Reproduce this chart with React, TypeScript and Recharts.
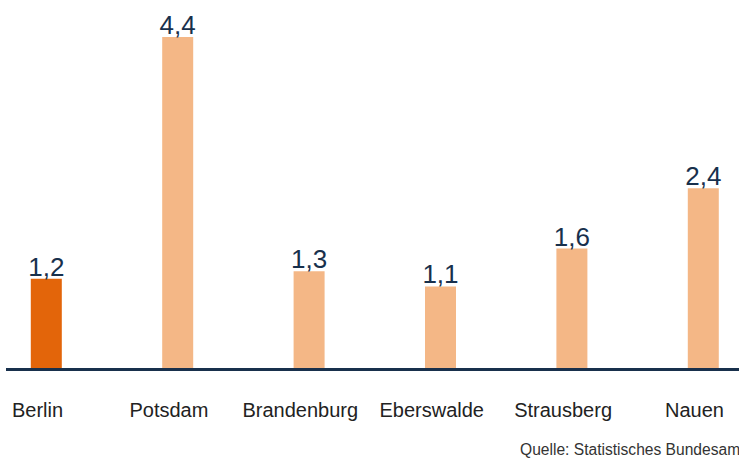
import { Bar, BarChart, Cell, LabelList, XAxis, YAxis } from 'recharts'

const cities = ['Berlin', 'Potsdam', 'Brandenburg', 'Eberswalde', 'Strausberg', 'Nauen']
const values = [1.2, 4.4, 1.3, 1.1, 1.6, 2.4]
const highlighted = ['Berlin']

const navy = '#18304c'
const fontFamily = '"Liberation Sans", Arial, Helvetica, sans-serif'

const data = cities.map((city, index) => ({
  pos: index,
  city,
  value: values[index],
  fill: highlighted.includes(city) ? '#e3650a' : '#f4b786',
}))

export default function App() {
  return (
    <div style={{ position: 'absolute', left: 0, top: 0, width: 739, height: 460, overflow: 'hidden', background: '#fff', fontFamily }}>
      <BarChart width={739} height={460} data={data} margin={{ top: 37, right: 0, bottom: 40.5, left: 6 }}>
        <XAxis
          dataKey="pos"
          type="number"
          domain={[-0.3082, 5.2702]}
          ticks={[0, 1, 2, 3, 4, 5]}
          tickFormatter={(value) => cities[value] ?? ''}
          height={50}
          tickLine={false}
          tickSize={0}
          tickMargin={33}
          axisLine={{ stroke: navy, strokeWidth: 3 }}
          tick={{ fill: '#222', fontSize: 20, fontFamily, dx: -9 }}
          interval={0}
        />
        <YAxis hide domain={[0, 4.4]} />
        <Bar dataKey="value" barSize={31} isAnimationActive={false}>
          {data.map((entry) => (
            <Cell key={entry.city} fill={entry.fill} />
          ))}
          <LabelList
            dataKey="value"
            position="top"
            offset={3}
            formatter={(value: number) => value.toFixed(1).replace('.', ',')}
            style={{ fill: navy, fontSize: 26, fontFamily }}
          />
        </Bar>
      </BarChart>
      <div style={{ position: 'absolute', left: 520, top: 441, fontSize: 15.6, color: '#333', whiteSpace: 'nowrap' }}>
        Quelle: Statistisches Bundesamt
      </div>
    </div>
  )
}
